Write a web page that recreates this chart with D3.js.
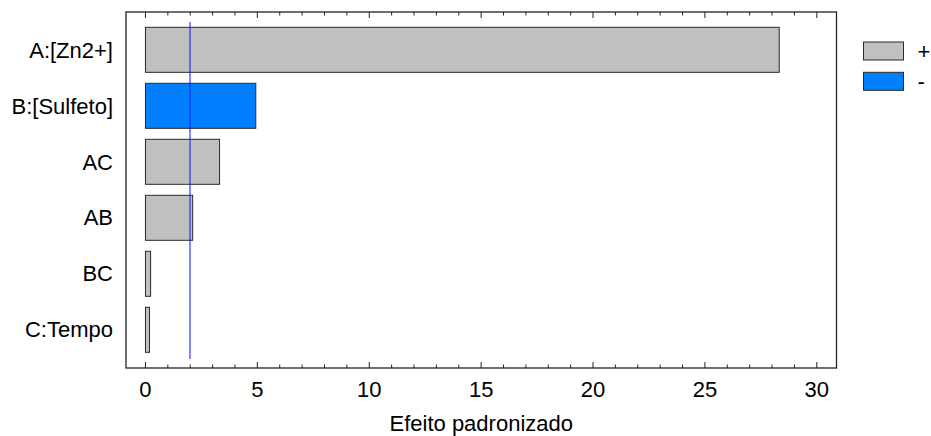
<!DOCTYPE html>
<html>
<head>
<meta charset="utf-8">
<script src="https://cdn.jsdelivr.net/npm/d3@7"></script>
<style>
  html, body { margin: 0; padding: 0; background: #fff; }
  svg { display: block; font-family: "Liberation Sans", Arial, sans-serif; }
</style>
</head>
<body>
<svg id="chart" width="931" height="436"></svg>
<script>
// Pareto chart of standardized effects
const factors = ["A:[Zn2+]", "B:[Sulfeto]", "AC", "AB", "BC", "C:Tempo"];
const effects = [28.32, 4.93, 3.31, 2.11, 0.23, 0.18];
const signs = ["+", "-", "+", "+", "+", "+"];
const criticalValue = 1.99;
const xTicks = [0, 5, 10, 15, 20, 25, 30];
const legendItems = ["+", "-"];
const signColor = { "+": "#c0c0c0", "-": "#0080ff" };

const svg = d3.select("#chart");
const frame = { left: 126, right: 836.5, top: 12, bottom: 368 };
const fontSize = 22;

const x = d3.scaleLinear().domain([-0.87, 30.88]).range([frame.left, frame.right]);
const y = d3.scaleBand().domain(factors).range([27.3, 352.3])
  .paddingInner(0.196).paddingOuter(0);

// bars
svg.append("g").selectAll("rect").data(factors).join("rect")
  .attr("x", x(0))
  .attr("y", d => y(d))
  .attr("width", (d, i) => x(effects[i]) - x(0))
  .attr("height", y.bandwidth())
  .attr("fill", (d, i) => signColor[signs[i]])
  .attr("stroke", "#2a2a2a")
  .attr("stroke-width", 1);

// reference line at the critical value
svg.append("line")
  .attr("x1", x(criticalValue)).attr("x2", x(criticalValue))
  .attr("y1", 22).attr("y2", 359)
  .attr("stroke", "#2222ff").attr("stroke-width", 1.1);

// minor + major ticks, bottom and top, pointing inward
const minor = d3.range(0, 31, 1);
const tickG = svg.append("g").attr("stroke", "#222").attr("stroke-width", 1);
minor.forEach(v => {
  const len = v % 5 === 0 ? 6 : 3.5;
  tickG.append("line").attr("x1", x(v)).attr("x2", x(v))
    .attr("y1", frame.bottom).attr("y2", frame.bottom - len);
  tickG.append("line").attr("x1", x(v)).attr("x2", x(v))
    .attr("y1", frame.top).attr("y2", frame.top + len);
});

// frame
svg.append("rect")
  .attr("x", frame.left).attr("y", frame.top)
  .attr("width", frame.right - frame.left).attr("height", frame.bottom - frame.top)
  .attr("fill", "none").attr("stroke", "#222").attr("stroke-width", 1.3);

// x tick labels
svg.append("g").selectAll("text").data(xTicks).join("text")
  .attr("x", d => x(d)).attr("y", 396.5)
  .attr("text-anchor", "middle")
  .attr("font-size", fontSize).attr("fill", "#000")
  .text(d => d);

// category labels
svg.append("g").selectAll("text").data(factors).join("text")
  .attr("x", 113).attr("y", d => y(d) + y.bandwidth() / 2)
  .attr("dy", "0.35em")
  .attr("text-anchor", "end")
  .attr("font-size", fontSize).attr("fill", "#000")
  .text(d => d);

// axis title
svg.append("text")
  .attr("x", (frame.left + frame.right) / 2).attr("y", 431)
  .attr("text-anchor", "middle")
  .attr("font-size", fontSize).attr("fill", "#000")
  .text("Efeito padronizado");

// legend
const lg = svg.append("g").selectAll("g").data(legendItems).join("g")
  .attr("transform", (d, i) => `translate(863.5, ${42 + i * 30.3})`);
lg.append("rect").attr("width", 40).attr("height", 18)
  .attr("fill", d => signColor[d]).attr("stroke", "#2a2a2a").attr("stroke-width", 1);
lg.append("text").attr("x", 54).attr("y", 9).attr("dy", "0.35em")
  .attr("font-size", fontSize).attr("fill", "#000")
  .text(d => d);
</script>
</body>
</html>
